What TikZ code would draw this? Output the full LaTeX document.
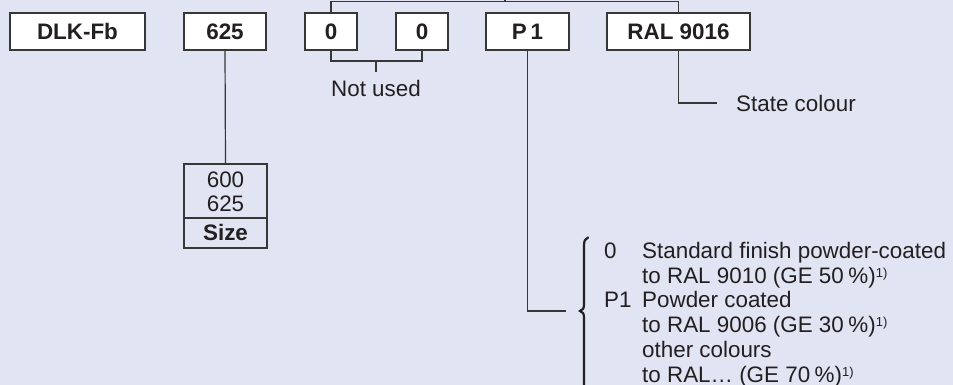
\documentclass[tikz,border=0pt]{standalone}
\usepackage{fontspec}
\setmainfont{Liberation Sans}
\definecolor{bg}{RGB}{224,228,243}
\definecolor{ln}{RGB}{55,55,55}
\definecolor{tx}{RGB}{35,31,32}
\tikzset{
  codebox/.style={draw=ln, fill=white, line width=1.2pt, inner sep=0pt,
    text height=16pt, text depth=0pt, minimum height=37pt, font=\fontsize{22.4}{24.6}\selectfont\bfseries},
  conn/.style={draw=ln, line width=1.2pt},
  lbl/.style={inner sep=0pt, anchor=base west},
  lblc/.style={inner sep=0pt, anchor=base},
}
\newcommand{\fn}{\raisebox{6pt}{\fontsize{13}{13}\selectfont 1)}}
\newcommand{\pct}{\hspace{0.2em}\%}
\begin{document}
\begin{tikzpicture}[x=1pt,y=-1pt, font=\fontsize{22.4}{24.6}\selectfont, text=tx]
\fill[bg] (0,0) rectangle (953,385);
\useasboundingbox (0,0) rectangle (953,385);

% code boxes
\node[codebox, minimum width=135pt] (dlk) at (77.5,31.5) {DLK-Fb};
\node[codebox, minimum width=82pt] (size) at (225,31.5) {625};
\node[codebox, minimum width=52pt] (za) at (331,31.5) {0};
\node[codebox, minimum width=52pt] (zb) at (422,31.5) {0};
\node[codebox, minimum width=83pt] (p1) at (527.5,31.5) {P\,1};
\node[codebox, minimum width=143pt] (ral) at (678.5,31.5) {RAL 9016};

% top connector
\coordinate (topa) at (331,1.5);
\coordinate (topb) at (678.5,1.5);
\draw[conn] (za.north) -- (topa) -- (topb) -- (ral.north);
\coordinate (tickt) at (505,0);
\coordinate (tickb) at (505,1.5);
\draw[conn] (tickt) -- (tickb);

% not used bracket
\coordinate (nuL) at (331,61);
\coordinate (nuR) at (422,61);
\coordinate (nuM) at (376,61);
\coordinate (nuT) at (376,72);
\draw[conn] (za.south) -- (nuL) -- (nuR) -- (zb.south);
\draw[conn] (nuM) -- (nuT);
\node[lblc] (notused) at (376,96.7) {Not used};

% size table
\node[draw=ln, line width=1.2pt, minimum width=83pt, minimum height=84pt, inner sep=0pt] (sizetab) at (225.5,206) {};
\draw[draw=ln, line width=2.2pt] (sizetab.west |- 0,218) -- (sizetab.east |- 0,218);
\draw[conn] (size.south) -- (sizetab.north);
\node[lblc] (s600) at (225.5,187) {600};
\node[lblc] (s625) at (225.5,211) {625};
\node[lblc, font=\fontsize{22.4}{24.6}\selectfont\bfseries] (ssize) at (225.5,240) {Size};

% state colour
\coordinate (ralk) at (678.5,103);
\coordinate (rale) at (717,103);
\draw[conn] (ral.south) -- (ralk) -- (rale);
\node[lbl] (statec) at (736,111.5) {State colour};

% P1 to options
\coordinate (p1k) at (527.5,311);
\coordinate (p1e) at (566,311);
\draw[conn] (p1.south) -- (p1k) -- (p1e);

% brace
\draw[draw=tx, line width=2.2pt, line cap=round]
  (588,237.5) .. controls (585,238.5) and (584,241) .. (584,246)
  -- (584,304) .. controls (584,308.5) and (583,310) .. (580,311)
  .. controls (583,312) and (584,313.5) .. (584,318) -- (584,392);

% options text
\node[lbl] (o0) at (604,258.5) {0};
\node[lbl] (o0a) at (642,258.5) {Standard finish powder-coated};
\node[lbl] (o0b) at (642,283.2) {to RAL 9010 (GE 50\pct)\fn};
\node[lbl] (o1) at (604,307.9) {P1};
\node[lbl] (o1a) at (642,307.9) {Powder coated};
\node[lbl] (o1b) at (642,332.6) {to RAL 9006 (GE 30\pct)\fn};
\node[lbl] (o2a) at (642,357.3) {other colours};
\node[lbl] (o2b) at (642,382) {to RAL… (GE 70\pct)\fn};
\end{tikzpicture}
\end{document}
